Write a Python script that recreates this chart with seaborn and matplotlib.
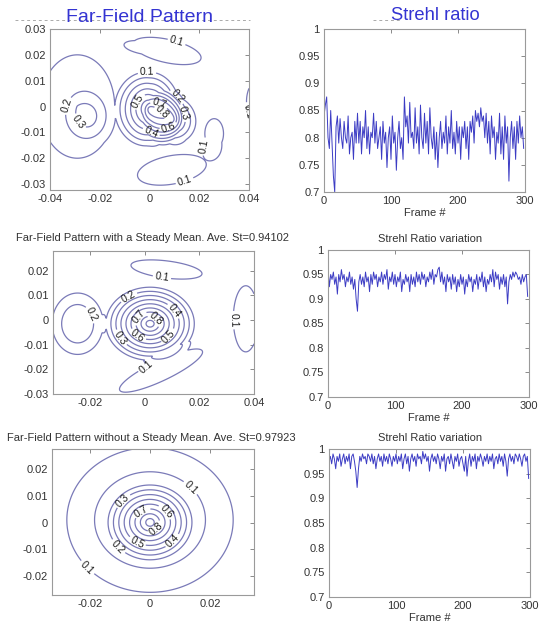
import numpy as np
import matplotlib
matplotlib.use("Agg")
import matplotlib.pyplot as plt
from matplotlib.lines import Line2D
import seaborn as sns
import pandas as pd

# ---------------- data ----------------
# Strehl ratio per frame (every 2nd frame), values x1000
strehl_top = [840, 860, 875, 800, 780, 850, 790, 730, 700, 820, 840, 790, 835, 800, 780, 830, 800, 790, 840, 770,
              800, 810, 760, 830, 790, 845, 790, 830, 770, 820, 800, 850, 780, 820, 770, 810, 800, 845, 790, 830,
              780, 800, 820, 760, 830, 790, 810, 745, 800, 820, 760, 840, 790, 810, 740, 800, 830, 780, 800, 760,
              875, 820, 840, 790, 865, 800, 810, 780, 855, 790, 820, 770, 860, 800, 780, 845, 790, 830, 770, 855,
              800, 780, 820, 760, 810, 745, 800, 830, 780, 810, 790, 840, 770, 820, 790, 850, 780, 810, 770, 830,
              790, 820, 760, 820, 800, 830, 780, 820, 760, 830, 810, 840, 790, 850, 830, 845, 820, 855, 830, 840,
              800, 845, 790, 830, 770, 840, 800, 820, 760, 810, 790, 845, 770, 820, 760, 840, 790, 820, 720, 800,
              830, 780, 820, 760, 830, 790, 840, 800, 820, 780]
strehl_mid = [965, 925, 950, 940, 955, 930, 945, 910, 950, 935, 960, 940, 950, 925, 945, 935, 955, 930, 945, 920,
              940, 900, 875, 935, 950, 930, 945, 925, 955, 935, 945, 915, 950, 930, 955, 940, 950, 925, 945, 935,
              955, 930, 950, 940, 960, 920, 945, 935, 955, 930, 950, 925, 945, 935, 955, 915, 940, 930, 950, 935,
              945, 915, 950, 930, 945, 925, 955, 935, 950, 930, 955, 940, 950, 925, 945, 935, 955, 940, 960, 930,
              950, 945, 960, 965, 935, 955, 930, 945, 915, 950, 935, 945, 920, 950, 930, 945, 915, 940, 925, 950,
              930, 945, 910, 940, 925, 950, 935, 945, 915, 940, 930, 950, 920, 945, 935, 955, 925, 945, 915, 940,
              930, 950, 935, 960, 925, 955, 940, 950, 920, 945, 930, 950, 925, 945, 890, 935, 950, 940, 955, 945,
              955, 950, 940, 945, 930, 950, 935, 945, 950, 905]
strehl_bot = [975, 985, 970, 990, 980, 960, 985, 975, 990, 965, 980, 990, 970, 985, 975, 990, 960, 985, 990, 975,
              955, 922, 960, 985, 975, 990, 980, 985, 970, 990, 985, 975, 990, 970, 985, 960, 980, 990, 975, 985,
              965, 990, 975, 985, 970, 990, 980, 965, 985, 975, 990, 970, 985, 975, 990, 960, 980, 990, 970, 985,
              955, 980, 990, 975, 985, 965, 990, 980, 985, 970, 995, 980, 990, 975, 985, 955, 980, 990, 975, 985,
              970, 990, 980, 960, 985, 975, 990, 955, 980, 985, 970, 990, 975, 960, 985, 975, 990, 965, 980, 985,
              970, 955, 985, 945, 975, 990, 965, 985, 975, 990, 960, 985, 975, 990, 980, 965, 985, 975, 990, 970,
              985, 975, 990, 960, 980, 985, 970, 990, 975, 985, 965, 990, 975, 945, 980, 990, 975, 985, 970, 990,
              985, 975, 990, 980, 965, 985, 990, 975, 985, 940]
frame_step = 2

# Far-field lobes read from the contour maps:
# centre x, centre y, peak, radius x, radius y, tilt (deg), profile exponent
top_x = [0.000, 0.009, -0.0245, -0.029, 0.026, 0.048, 0.007, 0.009]
top_y = [-0.001, -0.005, -0.004, 0.000, -0.0105, 0.002, 0.0215, -0.0245]
top_a = [0.75, 0.55, 0.22, 0.20, 0.20, 0.20, 0.20, 0.20]
top_sx = [0.014, 0.012, 0.011, 0.030, 0.0075, 0.018, 0.028, 0.028]
top_sy = [0.0165, 0.011, 0.012, 0.040, 0.0116, 0.022, 0.009, 0.011]
top_t = [0, -30, 0, 0, 0, 0, -12, 10]
top_g = [1, 1, 1, 1, 1, 1, 1, 1]

mid_x = [0.002, -0.0245, 0.008, 0.006, 0.037]
mid_y = [-0.0015, -0.0015, 0.0205, -0.0205, 0.0005]
mid_a = [0.98, 0.30, 0.16, 0.16, 0.16]
mid_sx = [0.018, 0.0105, 0.0215, 0.028, 0.0075]
mid_sy = [0.0165, 0.014, 0.0057, 0.0066, 0.022]
mid_t = [0, 0, -8, 28, 0]
mid_g = [1, 0.5, 0.5, 0.5, 0.5]

bot_x = [0.000, 0.000]
bot_y = [0.000, 0.001]
bot_a = [0.78, 0.20]
bot_sx = [0.0155, 0.037]
bot_sy = [0.0155, 0.036]
bot_t = [0, 0]
bot_g = [1, 1]

levels_top = [0.1, 0.2, 0.3, 0.4, 0.5, 0.6, 0.7, 0.8, 0.9]
levels_mid = [0.1, 0.2, 0.3, 0.4, 0.5, 0.6, 0.7, 0.8, 0.9]
levels_bot = [0.05, 0.1, 0.2, 0.3, 0.4, 0.5, 0.6, 0.7, 0.8, 0.9]

titles_left = ["Far-Field Pattern",
               "Far-Field Pattern with a Steady Mean. Ave. St=0.94102",
               "Far-Field Pattern without a Steady Mean. Ave. St=0.97923"]
titles_right = ["Strehl ratio", "Strehl Ratio variation", "Strehl Ratio variation"]

# ---------------- style ----------------
sns.set_theme(style="white")
plt.rcParams["font.family"] = ["Liberation Sans", "DejaVu Sans"]

W, H = 542, 624
fig = plt.figure(figsize=(W / 100, H / 100), dpi=100)


def axbox(x0, y0, x1, y1):
    return fig.add_axes([x0 / W, 1 - y1 / H, (x1 - x0) / W, (y1 - y0) / H])


CONT = "#7a7ab8"
LINE = "#3c3cc4"
TXT = "#333333"


def style(ax):
    for s in ax.spines.values():
        s.set_color("#9a9a9a")
        s.set_linewidth(0.8)
    ax.tick_params(direction="in", length=3, width=0.6, color="#777777",
                   top=True, right=True, labelsize=8, labelcolor=TXT, pad=3)


def field(X, Y, xs, ys, amps, sxs, sys_, tilts, gs):
    Z = np.zeros_like(X)
    for x0, y0, a, sx, sy, t, g in zip(xs, ys, amps, sxs, sys_, tilts, gs):
        th = np.radians(t)
        dx, dy = X - x0, Y - y0
        u = dx * np.cos(th) + dy * np.sin(th)
        v = -dx * np.sin(th) + dy * np.cos(th)
        q = np.sqrt((u / sx) ** 2 + (v / sy) ** 2)
        Z += a * np.clip(1 - q, 0, 1) ** g
    return Z


def contour_panel(ax, xlim, ylim, lob, levels, xt, yt):
    gx = np.linspace(xlim[0], xlim[1], 400)
    gy = np.linspace(ylim[0], ylim[1], 400)
    X, Y = np.meshgrid(gx, gy)
    Z = field(X, Y, *lob)
    cs = ax.contour(X, Y, Z, levels=levels, colors=CONT, linewidths=0.9)
    ax.clabel(cs, inline=True, fontsize=7.5, fmt="%.1f", colors="k", inline_spacing=2)
    ax.set_xlim(xlim)
    ax.set_ylim(ylim)
    ax.set_xticks(xt)
    ax.set_yticks(yt)
    ax.set_xticklabels([("%g" % v) for v in xt])
    ax.set_yticklabels([("%g" % v) for v in yt])
    style(ax)


def series_panel(ax, vals):
    frames = np.arange(len(vals)) * frame_step
    df = pd.DataFrame({"frame": frames, "st": np.array(vals) / 1000.0})
    sns.lineplot(data=df, x="frame", y="st", ax=ax, color=LINE, linewidth=0.7)
    ax.set_xlim(0, 300)
    ax.set_ylim(0.7, 1.0)
    ax.set_xticks([0, 100, 200, 300])
    yt = [0.7, 0.75, 0.8, 0.85, 0.9, 0.95, 1.0]
    ax.set_yticks(yt)
    ax.set_yticklabels([("%g" % v) for v in yt])
    ax.set_ylabel("")
    ax.set_xlabel("Frame #", fontsize=8, color=TXT, labelpad=1)
    style(ax)


# Row 1
ax = axbox(50, 29, 249, 190)
contour_panel(ax, (-0.04, 0.04), (-0.0323, 0.03),
              (top_x, top_y, top_a, top_sx, top_sy, top_t, top_g), levels_top,
              [-0.04, -0.02, 0, 0.02, 0.04], [-0.03, -0.02, -0.01, 0, 0.01, 0.02, 0.03])
ax = axbox(324, 29, 525, 192)
series_panel(ax, strehl_top)

# Row 2
ax = axbox(53, 251, 254, 394)
contour_panel(ax, (-0.0335, 0.04), (-0.03, 0.028),
              (mid_x, mid_y, mid_a, mid_sx, mid_sy, mid_t, mid_g), levels_mid,
              [-0.02, 0, 0.02, 0.04], [-0.03, -0.02, -0.01, 0, 0.01, 0.02])
ax = axbox(328, 250, 529, 397)
series_panel(ax, strehl_mid)

# Row 3
ax = axbox(52, 449, 254, 595)
contour_panel(ax, (-0.0327, 0.0347), (-0.027, 0.0275),
              (bot_x, bot_y, bot_a, bot_sx, bot_sy, bot_t, bot_g), levels_bot,
              [-0.02, 0, 0.02], [-0.02, -0.01, 0, 0.01, 0.02])
ax = axbox(329, 449, 530, 597)
series_panel(ax, strehl_bot)

# Titles
BLUE = "#3434d2"
fig.add_artist(Line2D([15 / W, 250 / W], [1 - 20 / H] * 2, ls=(0, (3, 3)), color="#aaaaaa", lw=0.7))
fig.add_artist(Line2D([373 / W, 400 / W], [1 - 20 / H] * 2, ls=(0, (3, 3)), color="#aaaaaa", lw=0.7))
fig.text(140 / W, 1 - 18 / H, titles_left[0], ha="center", va="center", fontsize=14, color=BLUE)
fig.text(435 / W, 1 - 15 / H, titles_right[0], ha="center", va="center", fontsize=13.2, color=BLUE)
fig.text(16 / W, 1 - 238 / H, titles_left[1], ha="left", va="center", fontsize=8, color=TXT)
fig.text(430 / W, 1 - 239 / H, titles_right[1], ha="center", va="center", fontsize=8, color=TXT)
fig.text(7 / W, 1 - 438 / H, titles_left[2], ha="left", va="center", fontsize=8, color=TXT)
fig.text(430 / W, 1 - 438 / H, titles_right[2], ha="center", va="center", fontsize=8, color=TXT)

fig.savefig("out.png", dpi=100, facecolor="white")
